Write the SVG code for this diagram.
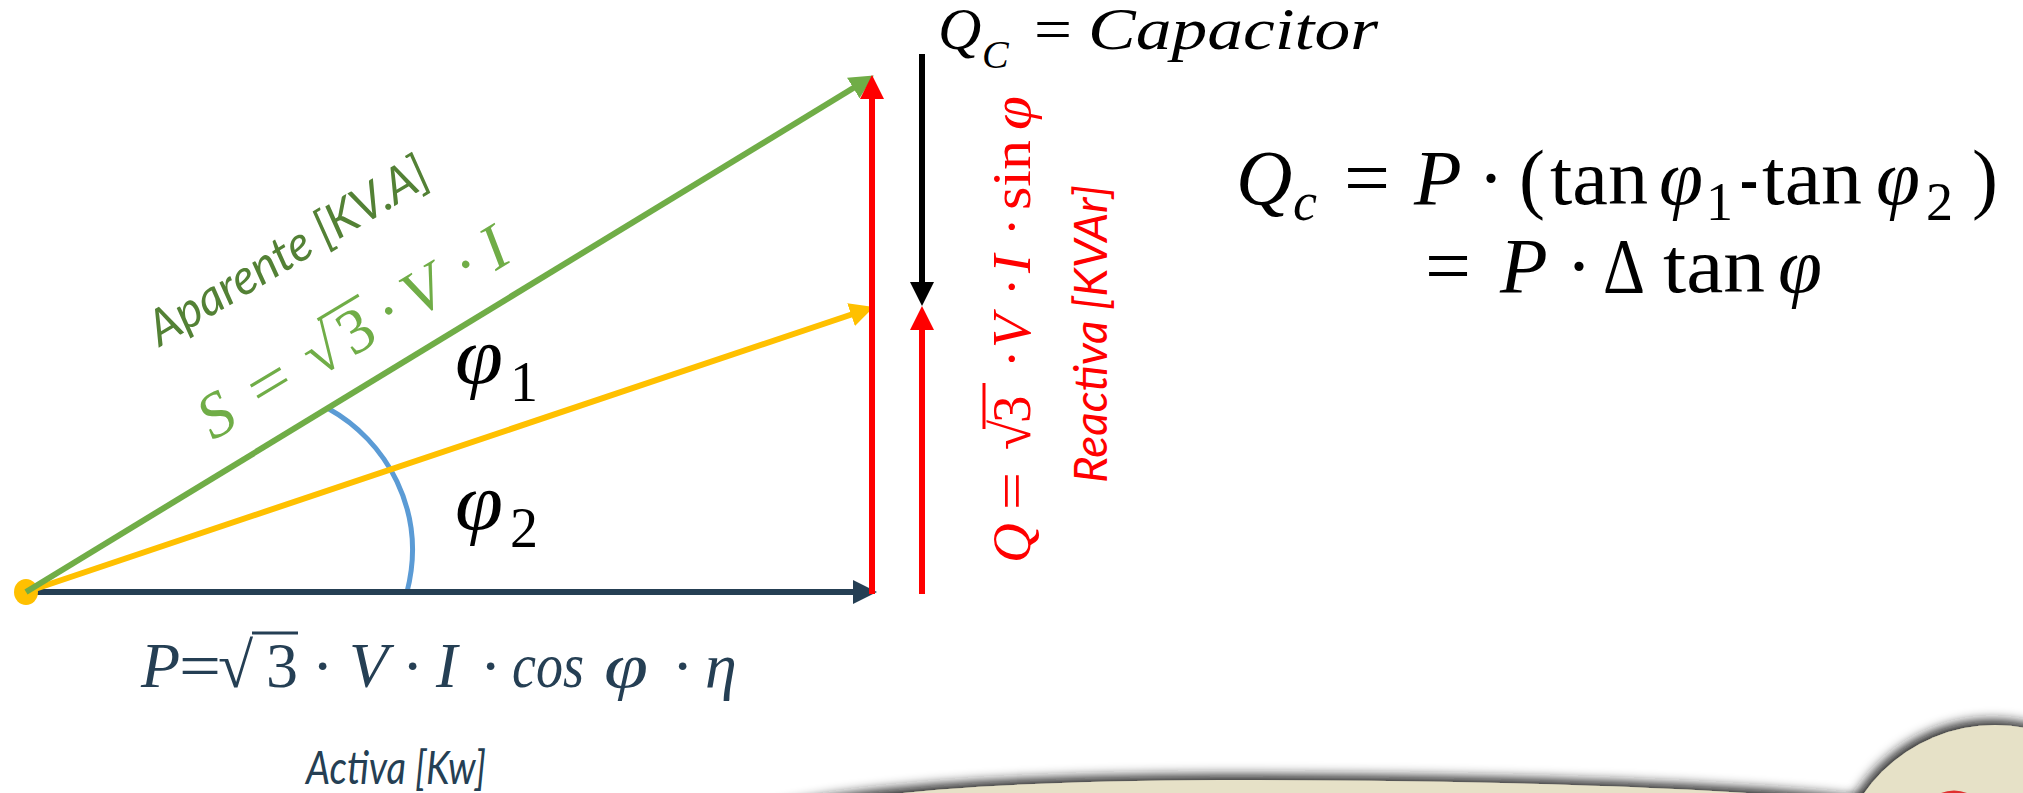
<svg xmlns="http://www.w3.org/2000/svg" width="2023" height="793" viewBox="0 0 2023 793">
<style>
.m{font-family:"Liberation Serif","DejaVu Serif",serif;}
.i{font-style:italic;}
.c{font-family:Lato,"Open Sans","Liberation Sans",sans-serif;font-style:italic;}
.vec{fill:none;stroke-width:6;}
</style>
<defs>
<marker id="ah-green" viewBox="0 0 24 24" refX="2" refY="12" markerWidth="24" markerHeight="24" markerUnits="userSpaceOnUse" orient="auto"><path d="M0,0 L24,12 L0,24 z" fill="#70AD47"/></marker>
<marker id="ah-yellow" viewBox="0 0 24 24" refX="2" refY="12" markerWidth="24" markerHeight="24" markerUnits="userSpaceOnUse" orient="auto"><path d="M0,0 L24,12 L0,24 z" fill="#FFC000"/></marker>
<marker id="ah-dark" viewBox="0 0 24 24" refX="2" refY="12" markerWidth="24" markerHeight="24" markerUnits="userSpaceOnUse" orient="auto"><path d="M0,0 L24,12 L0,24 z" fill="#253F54"/></marker>
<marker id="ah-red" viewBox="0 0 24 24" refX="2" refY="12" markerWidth="24" markerHeight="24" markerUnits="userSpaceOnUse" orient="auto"><path d="M0,0 L24,12 L0,24 z" fill="#FF0000"/></marker>
<marker id="ah-black" viewBox="0 0 24 24" refX="2" refY="12" markerWidth="24" markerHeight="24" markerUnits="userSpaceOnUse" orient="auto"><path d="M0,0 L24,12 L0,24 z" fill="#000000"/></marker>
<filter id="shadow" x="-20%" y="-50%" width="140%" height="200%">
<feGaussianBlur in="SourceAlpha" stdDeviation="6"/>
<feOffset dx="-3" dy="-5" result="b"/>
<feFlood flood-color="#1a1a1a" flood-opacity="0.95"/>
<feComposite in2="b" operator="in"/>
<feMerge><feMergeNode/><feMergeNode in="SourceGraphic"/></feMerge>
</filter>
</defs>
<rect width="2023" height="793" fill="#FFFFFF"/>

<g id="decoration">
<path d="M 680,840 C 790,792 1000,781 1220,780 C 1500,780 1750,788 1880,805 L 1880,840 Z" fill="#E6E1C7" filter="url(#shadow)"/>
<circle cx="1995" cy="885" r="160" fill="#E6E1C7" filter="url(#shadow)"/>
<circle cx="1954" cy="824" r="31" fill="none" stroke="#E03030" stroke-width="5"/>
</g>

<g id="connectors">
<path id="angle-arc" d="M329,409 C385,440 428,510 407,592" fill="none" stroke="#5B9BD5" stroke-width="5"/>
<line id="vec-P" class="vec" x1="26" y1="592" x2="855" y2="592" stroke="#253F54" stroke-width="7" marker-end="url(#ah-dark)"/>
<ellipse id="origin" cx="26" cy="592" rx="12" ry="13" fill="#FFC000"/>
<line id="vec-S2" class="vec" x1="26" y1="592" x2="853" y2="314" stroke="#FFC000" marker-end="url(#ah-yellow)"/>
<line id="vec-S1" class="vec" x1="26" y1="592" x2="855" y2="87" stroke="#70AD47" marker-end="url(#ah-green)"/>
<line id="vec-Q" class="vec" x1="872" y1="594" x2="872" y2="97" stroke="#FF0000" marker-end="url(#ah-red)"/>
<line id="vec-Q2" class="vec" x1="922" y1="594" x2="922" y2="328" stroke="#FF0000" marker-end="url(#ah-red)"/>
<line id="vec-Qc" class="vec" x1="922" y1="54" x2="922" y2="284" stroke="#000000" marker-end="url(#ah-black)"/>
</g>

<g id="label-qc-top" fill="#000000">
<text class="m" font-size="60" y="49"><tspan class="i" x="938">Q</tspan><tspan class="i" x="982" y="68" font-size="40">C</tspan><tspan x="1034" y="49" textLength="38" lengthAdjust="spacingAndGlyphs">=</tspan><tspan class="i" x="1088" textLength="290" lengthAdjust="spacingAndGlyphs">Capacitor</tspan></text>
</g>

<g id="label-formula" fill="#000000">
<text class="m" font-size="78" y="204"><tspan class="i" x="1236">Q</tspan><tspan class="i" x="1293" y="220" font-size="54">c</tspan><tspan x="1344" y="204" textLength="46" lengthAdjust="spacingAndGlyphs">=</tspan><tspan class="i" x="1414">P</tspan><tspan x="1478">·</tspan><tspan x="1519">(</tspan><tspan x="1550" textLength="98" lengthAdjust="spacingAndGlyphs">tan</tspan><tspan class="i" x="1659" textLength="44" lengthAdjust="spacingAndGlyphs">φ</tspan><tspan x="1706" y="220" font-size="54">1</tspan><tspan x="1740" y="204" textLength="18" lengthAdjust="spacingAndGlyphs">-</tspan><tspan x="1762" textLength="100" lengthAdjust="spacingAndGlyphs">tan</tspan><tspan class="i" x="1876" textLength="44" lengthAdjust="spacingAndGlyphs">φ</tspan><tspan x="1926" y="220" font-size="54">2</tspan><tspan x="1972" y="204">)</tspan></text>
<text class="m" font-size="78" y="292"><tspan x="1425" textLength="46" lengthAdjust="spacingAndGlyphs">=</tspan><tspan class="i" x="1500">P</tspan><tspan x="1566">·</tspan><tspan x="1603" textLength="42" lengthAdjust="spacingAndGlyphs">Δ</tspan><tspan x="1663" textLength="102" lengthAdjust="spacingAndGlyphs">tan</tspan><tspan class="i" x="1778" textLength="44" lengthAdjust="spacingAndGlyphs">φ</tspan></text>
</g>

<g id="label-S" fill="#70AD47" transform="translate(213,441) rotate(-31)">
<text class="m" font-size="64" y="0"><tspan class="i" x="0">S</tspan><tspan x="57" textLength="42" lengthAdjust="spacingAndGlyphs">=</tspan><tspan x="122">√</tspan><tspan x="163">3</tspan><tspan x="207">·</tspan><tspan class="i" x="238">V</tspan><tspan x="297">·</tspan><tspan class="i" x="330">I</tspan></text>
<line x1="152" y1="-50" x2="200" y2="-50" stroke="#70AD47" stroke-width="3"/>
</g>
<g id="label-aparente" fill="#538135">
<text class="c" font-size="49" transform="translate(160,347) rotate(-31)" textLength="318" lengthAdjust="spacingAndGlyphs">Aparente [KV.A]</text>
</g>

<g id="label-Q" fill="#FF0000" transform="translate(1030,563) rotate(-90)">
<text class="m" font-size="55" y="0"><tspan class="i" x="0">Q</tspan><tspan x="53" textLength="38" lengthAdjust="spacingAndGlyphs">=</tspan><tspan x="113">√</tspan><tspan x="140">3</tspan><tspan x="195">·</tspan><tspan class="i" x="215">V</tspan><tspan x="267">·</tspan><tspan class="i" x="290">I</tspan><tspan x="327">·</tspan><tspan x="353" textLength="70" lengthAdjust="spacingAndGlyphs">sin</tspan><tspan class="i" x="433" textLength="34" lengthAdjust="spacingAndGlyphs">φ</tspan></text>
<line x1="134" y1="-46" x2="180" y2="-46" stroke="#FF0000" stroke-width="3"/>
</g>
<g id="label-reactiva" fill="#FF0000">
<text class="c" font-size="47" transform="translate(1107,483) rotate(-90)" textLength="298" lengthAdjust="spacingAndGlyphs">Reactiva [KVAr]</text>
</g>

<g id="label-phi1" fill="#000000">
<text class="m" font-size="80" y="383"><tspan class="i" x="455" textLength="48" lengthAdjust="spacingAndGlyphs">φ</tspan><tspan x="510" y="401" font-size="56">1</tspan></text>
</g>
<g id="label-phi2" fill="#000000">
<text class="m" font-size="80" y="529"><tspan class="i" x="455" textLength="48" lengthAdjust="spacingAndGlyphs">φ</tspan><tspan x="510" y="547" font-size="56">2</tspan></text>
</g>

<g id="label-P" fill="#253F54">
<text class="m" font-size="64" y="687"><tspan class="i" x="141">P</tspan><tspan x="179" textLength="42" lengthAdjust="spacingAndGlyphs">=</tspan><tspan x="218">√</tspan><tspan x="266">3</tspan><tspan x="312">·</tspan><tspan class="i" x="349">V</tspan><tspan x="402">·</tspan><tspan class="i" x="436">I</tspan><tspan x="480">·</tspan><tspan class="i" x="512" textLength="72" lengthAdjust="spacingAndGlyphs">cos</tspan><tspan class="i" x="604" textLength="44" lengthAdjust="spacingAndGlyphs">φ</tspan><tspan x="672">·</tspan><tspan class="i" x="705">η</tspan></text>
<line x1="252" y1="633" x2="298" y2="633" stroke="#253F54" stroke-width="3"/>
</g>
<g id="label-activa" fill="#253F54">
<text class="c" font-size="46" x="306" y="784" textLength="180" lengthAdjust="spacingAndGlyphs">Activa [Kw]</text>
</g>
</svg>
